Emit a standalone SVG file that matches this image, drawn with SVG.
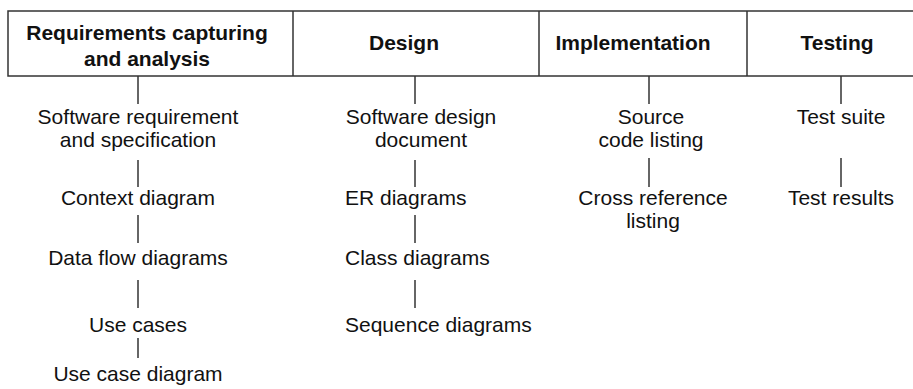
<svg xmlns="http://www.w3.org/2000/svg" width="913" height="389" viewBox="0 0 913 389">
<style>
.hdr{font-family:"Liberation Sans",Arial,sans-serif;font-size:21px;font-weight:bold;fill:#111;text-anchor:middle}
.t{font-family:"Liberation Sans",Arial,sans-serif;font-size:21px;fill:#111;text-anchor:middle}
.l{text-anchor:start}
.ln{stroke:#333;stroke-width:1.5;fill:none}
</style>
<rect width="913" height="389" fill="#fff"/>
<g id="header">
<rect x="8" y="11" width="920" height="65" fill="#fff" stroke="#333" stroke-width="1.5"/>
<line class="ln" x1="293" y1="11" x2="293" y2="76"/>
<line class="ln" x1="539" y1="11" x2="539" y2="76"/>
<line class="ln" x1="747" y1="11" x2="747" y2="76"/>
</g>
<g id="h-req"><text class="hdr" x="147" y="40">Requirements capturing</text><text class="hdr" x="147" y="66">and analysis</text></g>
<g id="h-design"><text class="hdr" x="404" y="50">Design</text></g>
<g id="h-impl"><text class="hdr" x="633" y="50">Implementation</text></g>
<g id="h-test"><text class="hdr" x="837" y="50">Testing</text></g>
<g id="connectors">
<line class="ln" x1="138" y1="76" x2="138" y2="104"/>
<line class="ln" x1="138" y1="160" x2="138" y2="187"/>
<line class="ln" x1="138" y1="215" x2="138" y2="243"/>
<line class="ln" x1="138" y1="280" x2="138" y2="308"/>
<line class="ln" x1="138" y1="338" x2="138" y2="358"/>
<line class="ln" x1="415" y1="76" x2="415" y2="104"/>
<line class="ln" x1="415" y1="160" x2="415" y2="187"/>
<line class="ln" x1="415" y1="215" x2="415" y2="243"/>
<line class="ln" x1="415" y1="280" x2="415" y2="308"/>
<line class="ln" x1="649" y1="76" x2="649" y2="104"/>
<line class="ln" x1="649" y1="158" x2="649" y2="187"/>
<line class="ln" x1="841" y1="76" x2="841" y2="104"/>
<line class="ln" x1="841" y1="158" x2="841" y2="187"/>
</g>
<g id="srs"><text class="t" x="138" y="124">Software requirement</text><text class="t" x="138" y="147">and specification</text></g>
<g id="context"><text class="t" x="138" y="205">Context diagram</text></g>
<g id="dfd"><text class="t" x="138" y="265">Data flow diagrams</text></g>
<g id="usecases"><text class="t" x="138" y="332">Use cases</text></g>
<g id="usecasediagram"><text class="t" x="138" y="381">Use case diagram</text></g>
<g id="sdd"><text class="t" x="421" y="124">Software design</text><text class="t" x="421" y="147">document</text></g>
<g id="er"><text class="t l" x="345" y="205">ER diagrams</text></g>
<g id="class"><text class="t l" x="345" y="265">Class diagrams</text></g>
<g id="seq"><text class="t l" x="345" y="332">Sequence diagrams</text></g>
<g id="source"><text class="t" x="651" y="124">Source</text><text class="t" x="651" y="147">code listing</text></g>
<g id="xref"><text class="t" x="653" y="205">Cross reference</text><text class="t" x="653" y="228">listing</text></g>
<g id="suite"><text class="t" x="841" y="124">Test suite</text></g>
<g id="results"><text class="t" x="841" y="205">Test results</text></g>
</svg>
